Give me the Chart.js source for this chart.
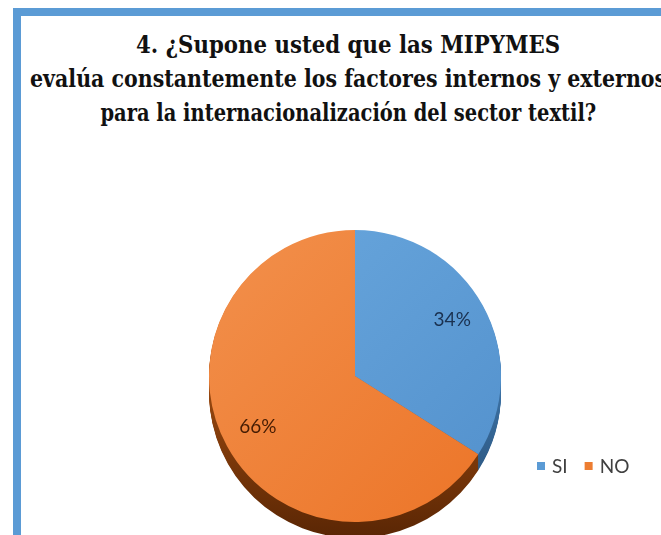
<!DOCTYPE html>
<html lang="es">
<head>
<meta charset="utf-8">
<title>MIPYMES - factores internos y externos</title>
<script src="https://cdn.jsdelivr.net/npm/chart.js@4.4.1/dist/chart.umd.min.js"></script>
<style>
  html, body { margin: 0; padding: 0; background: #fff; }
  #frame { position: relative; width: 661px; height: 535px; overflow: hidden; }
  #frame::before {
    content: ''; position: absolute; left: 13px; top: 8px; right: -20px; bottom: -20px;
    border-left: 8px solid #5b9bd5; border-top: 8px solid #5b9bd5;
  }
  .title-line {
    position: absolute; left: -352px; width: 1400px; text-align: center;
    font-family: "DejaVu Serif", "Liberation Serif", serif;
    font-weight: bold; font-size: 25px;
    line-height: 1; color: #111; white-space: nowrap;
  }
  .title-line span { display: inline-block; transform-origin: 50% 50%; }
  #chart { position: absolute; left: 0; top: 0; }
</style>
</head>
<body>
<div id="frame">
  <div class="title-line" style="top:32px"><span data-w="424">4. ¿Supone usted que las MIPYMES</span></div>
  <div class="title-line" style="top:66px"><span data-w="636">evalúa constantemente los factores internos y externos</span></div>
  <div class="title-line" style="top:100px"><span data-w="496">para la internacionalización del sector textil?</span></div>
  <canvas id="chart" width="661" height="535"></canvas>
</div>
<script>
const labels = ['SI', 'NO'];
const values = [34, 66];

// face, rim and label colours per slice
const sliceColors = ['#5b9bd5', '#ed7d31'];
const rimColors = [['#3d74a8', '#24496e'], ['#9c4a10', '#5a2604']];
const labelColors = ['#1a3150', '#451c03'];

const RIM_DEPTH = 16;

// squeeze the title lines to their set widths
document.querySelectorAll('.title-line span').forEach(function (el) {
  const w = parseFloat(el.dataset.w);
  el.style.transform = 'scaleX(' + (w / el.offsetWidth) + ')';
});

function arcProps(arc) {
  return arc.getProps(['x', 'y', 'startAngle', 'endAngle', 'outerRadius'], true);
}

// extruded edge under the pie
const pieRim = {
  id: 'pieRim',
  beforeDatasetsDraw(chart) {
    const ctx = chart.ctx;
    const meta = chart.getDatasetMeta(0);
    ctx.save();
    meta.data.forEach((arc, i) => {
      const p = arcProps(arc);
      const g = ctx.createLinearGradient(0, p.y, 0, p.y + p.outerRadius + RIM_DEPTH);
      g.addColorStop(0, rimColors[i][0]);
      g.addColorStop(1, rimColors[i][1]);
      ctx.fillStyle = g;
      for (let d = RIM_DEPTH; d > 0; d--) {
        ctx.beginPath();
        ctx.moveTo(p.x, p.y + d);
        ctx.arc(p.x, p.y + d, p.outerRadius, p.startAngle, p.endAngle);
        ctx.closePath();
        ctx.fill();
      }
    });
    ctx.restore();
  }
};

// percentage labels inside the slices
const sliceLabels = {
  id: 'sliceLabels',
  afterDatasetsDraw(chart) {
    const ctx = chart.ctx;
    const meta = chart.getDatasetMeta(0);
    const total = values.reduce((a, b) => a + b, 0);
    ctx.save();
    ctx.font = '19px Lato, "Open Sans", sans-serif';
    ctx.textAlign = 'center';
    ctx.textBaseline = 'middle';
    meta.data.forEach((arc, i) => {
      const p = arcProps(arc);
      const mid = (p.startAngle + p.endAngle) / 2;
      const r = p.outerRadius * 0.76;
      ctx.fillStyle = labelColors[i];
      ctx.fillText(Math.round(values[i] / total * 100) + '%',
        p.x + Math.cos(mid) * r, p.y + Math.sin(mid) * r - 3);
    });
    ctx.restore();
  }
};

// small horizontal legend at the lower right
const rowLegend = {
  id: 'rowLegend',
  afterDraw(chart) {
    const ctx = chart.ctx;
    let x = 537;
    const y = 466;
    ctx.save();
    ctx.font = '19px Lato, "Open Sans", sans-serif';
    ctx.textBaseline = 'middle';
    chart.data.labels.forEach((lab, i) => {
      ctx.fillStyle = sliceColors[i];
      ctx.fillRect(x, y - 4, 8, 8);
      x += 15;
      ctx.fillStyle = '#404040';
      ctx.fillText(lab, x, y + 1);
      x += ctx.measureText(lab).width + 17;
    });
    ctx.restore();
  }
};

function faceGradient(context) {
  const i = context.dataIndex;
  const area = context.chart.chartArea;
  if (!area) return sliceColors[i];
  const g = context.chart.ctx.createLinearGradient(area.left, area.top, area.right, area.bottom);
  if (i === 0) {
    g.addColorStop(0, '#6aa8de');
    g.addColorStop(1, '#5290cc');
  } else {
    g.addColorStop(0, '#f2904c');
    g.addColorStop(1, '#ec7427');
  }
  return g;
}

new Chart(document.getElementById('chart'), {
  type: 'pie',
  data: {
    labels: labels,
    datasets: [{
      data: values,
      backgroundColor: faceGradient,
      borderWidth: 0,
      hoverOffset: 0
    }]
  },
  options: {
    responsive: false,
    animation: false,
    events: [],
    layout: { padding: { left: 209, top: 230, right: 160, bottom: 13 } },
    plugins: {
      legend: { display: false },
      title: { display: false },
      tooltip: { enabled: false }
    }
  },
  plugins: [pieRim, sliceLabels, rowLegend]
});
</script>
</body>
</html>
